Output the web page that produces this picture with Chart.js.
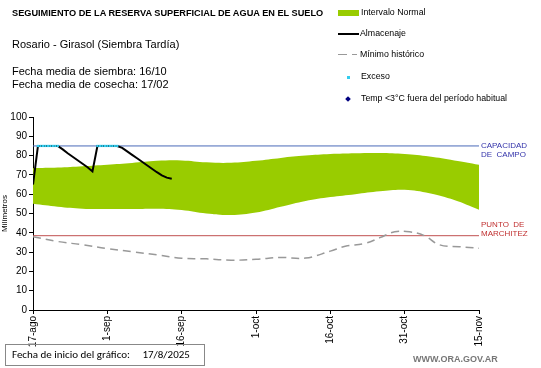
<!DOCTYPE html>
<html>
<head>
<meta charset="utf-8">
<script src="https://cdn.jsdelivr.net/npm/chart.js@4/dist/chart.umd.min.js"></script>
<style>
  body { margin: 0; background: #fff; font-family: 'Liberation Sans', Arial, sans-serif; }
  #wrap { position: relative; width: 541px; height: 368px; overflow: hidden; }
  #chart { position: absolute; left: 0; top: 0; }
  .txt { position: absolute; white-space: nowrap; color: #000; }
  .leg { position: absolute; font-size: 8.8px; white-space: nowrap; color: #000; }
  .box { position: absolute; left: 5px; top: 344px; width: 200px; height: 22px; border: 1px solid #888;
         font-family: 'Carlito', 'Liberation Sans', sans-serif; font-size: 11px; line-height: 20px; padding-left: 6px; box-sizing: border-box; }
</style>
</head>
<body>
<div id="wrap">
  <canvas id="chart" width="541" height="368"></canvas>

  <div class="txt" style="left:12px; top:8px; font-size:9.2px; font-weight:bold;">SEGUIMIENTO DE LA RESERVA SUPERFICIAL DE AGUA EN EL SUELO</div>
  <div class="txt" style="left:12px; top:38px; font-size:11px;">Rosario - Girasol (Siembra Tardía)</div>
  <div class="txt" style="left:12px; top:65px; font-size:11px; line-height:12.5px;">Fecha media de siembra: 16/10<br>Fecha media de cosecha: 17/02</div>

  <!-- legend -->
  <div style="position:absolute; left:338px; top:10px; width:21px; height:6px; background:#99cc00;"></div>
  <div class="leg" style="left:361px; top:7px;">Intervalo Normal</div>
  <div style="position:absolute; left:338px; top:33px; width:21px; height:2px; background:#000;"></div>
  <div class="leg" style="left:360px; top:28px;">Almacenaje</div>
  <div style="position:absolute; left:338px; top:54px; width:9px; height:1px; background:#999;"></div>
  <div style="position:absolute; left:352px; top:54px; width:5px; height:1px; background:#999;"></div>
  <div class="leg" style="left:360px; top:49px;">Mínimo histórico</div>
  <div style="position:absolute; left:347px; top:76px; width:3px; height:3px; background:#33ccee;"></div>
  <div class="leg" style="left:361px; top:71px;">Exceso</div>
  <div style="position:absolute; left:346px; top:97px; width:4px; height:4px; background:#000080; transform:rotate(45deg);"></div>
  <div class="leg" style="left:361px; top:93px;">Temp &lt;3°C fuera del período habitual</div>

  <div class="box">Fecha de inicio del gráfico:&nbsp;&nbsp;&nbsp;&nbsp;&nbsp;17/8/2025</div>
  <div class="txt" style="left:413px; top:354px; font-size:9px; font-weight:bold; color:#777;">WWW.ORA.GOV.AR</div>
</div>

<script>
// x axis: days since 17-ago
const tickLabels = ['17-ago', '1-sep', '16-sep', '1-oct', '16-oct', '31-oct', '15-nov'];

// normal interval band
const bandDays  = [0, 5, 10, 15, 20, 25, 30, 35, 40, 45, 50, 55, 60, 65, 70, 75, 80, 85, 90];
const bandUpper = [73.5, 73.8, 74.5, 75.3, 76.2, 77.3, 77.5, 76.5, 76.3, 77.3, 78.8, 80, 80.8, 81.2, 81.3, 80.8, 79.5, 77.5, 75.3];
const bandLower = [55, 53.5, 52.5, 52.3, 52.3, 52.5, 51.8, 50, 49.2, 50.5, 53.5, 56.5, 58.5, 60, 61.5, 62.3, 60.5, 57, 52];

// minimo historico
const minDays   = [0, 5, 10, 15, 20, 25, 30, 35, 40, 45, 50, 55, 60, 63, 67, 70, 73, 76, 79, 82, 86, 90];
const minValues = [38, 35.5, 33.8, 31.8, 30.2, 28.6, 26.8, 26.5, 25.8, 26.3, 27.2, 26.9, 30.5, 33, 34.5, 37.5, 40.5, 40.5, 38.5, 33.8, 32.8, 32];

// almacenaje (daily)
const storageDays   = [0, 1, 2, 3, 4, 5, 6, 7, 8, 9, 10, 11, 12, 13, 14, 15, 16, 17, 18, 19, 20, 21, 22, 23, 24, 25, 26, 27, 28];
const storageValues = [65, 85, 85, 85, 85, 85, 83.2, 81.2, 79.4, 77.6, 75.8, 74, 71.8, 85, 85, 85, 85, 85, 84, 82.2, 80.4, 78.6, 76.8, 75, 73.2, 71.4, 69.8, 68.6, 68];

// exceso
const excessDays   = [1, 1.5, 2, 2.5, 3, 3.5, 4, 4.5, 5, 13, 13.5, 14, 14.5, 15, 15.5, 16, 16.5, 17];
const excessValues = [85, 85, 85, 85, 85, 85, 85, 85, 85, 85, 85, 85, 85, 85, 85, 85, 85, 85];

const fieldCapacity = 85;
const wiltingPoint = 38.5;

const xy = (xs, ys) => xs.map((x, i) => ({ x: x, y: ys[i] }));

const sideLabels = {
  id: 'sideLabels',
  afterDraw(chart) {
    const { ctx, chartArea, scales } = chart;
    ctx.save();
    ctx.font = "8px 'Liberation Sans', Arial, sans-serif";
    ctx.textBaseline = 'middle';
    const x = chartArea.right + 2;
    let y = scales.y.getPixelForValue(fieldCapacity);
    ctx.fillStyle = '#3333aa';
    ctx.fillText('CAPACIDAD', x, y);
    ctx.fillText('DE  CAMPO', x, y + 9);
    y = scales.y.getPixelForValue(wiltingPoint);
    ctx.fillStyle = '#c03030';
    ctx.fillText('PUNTO  DE', x, y - 11);
    ctx.fillText('MARCHITEZ', x, y - 2);
    ctx.restore();
  }
};

const tickFont = { family: "'Liberation Sans', Arial, sans-serif", size: 10 };
const axisGrid = { display: true, drawOnChartArea: false, drawTicks: true, tickLength: 4, tickColor: '#000', color: '#000' };

new Chart(document.getElementById('chart'), {
  type: 'line',
  data: {
    datasets: [
      {
        label: 'lower', data: xy(bandDays, bandLower), order: 10,
        borderWidth: 0, pointRadius: 0, tension: 0.4, fill: false, borderColor: 'rgba(0,0,0,0)'
      },
      {
        label: 'Intervalo Normal', data: xy(bandDays, bandUpper), order: 9,
        borderWidth: 0, pointRadius: 0, tension: 0.4, fill: '-1',
        backgroundColor: '#99cc00', borderColor: 'rgba(0,0,0,0)'
      },
      {
        label: 'cc', data: [{ x: 0, y: fieldCapacity }, { x: 90, y: fieldCapacity }], order: 5,
        borderColor: '#4a6ab8', borderWidth: 1, pointRadius: 0
      },
      {
        label: 'pm', data: [{ x: 0, y: wiltingPoint }, { x: 90, y: wiltingPoint }], order: 5,
        borderColor: '#c05050', borderWidth: 1, pointRadius: 0
      },
      {
        label: 'Mínimo histórico', data: xy(minDays, minValues), order: 4,
        borderColor: '#999999', borderWidth: 1.5, borderDash: [8, 5], pointRadius: 0, tension: 0.4
      },
      {
        label: 'Almacenaje', data: xy(storageDays, storageValues), order: 2,
        borderColor: '#000', borderWidth: 2, pointRadius: 0, tension: 0
      },
      {
        label: 'Exceso', data: xy(excessDays, excessValues), order: 1,
        showLine: false, pointRadius: 1.6, pointStyle: 'rect',
        pointBackgroundColor: '#33ccee', pointBorderWidth: 0
      }
    ]
  },
  options: {
    responsive: false,
    animation: false,
    layout: { padding: { top: 117, right: 62, left: 0, bottom: 0 } },
    plugins: { legend: { display: false }, tooltip: { enabled: false } },
    scales: {
      x: {
        type: 'linear', min: 0, max: 90,
        afterFit: s => { s.height = 58; },
        grid: axisGrid,
        border: { color: '#000', width: 1 },
        ticks: {
          stepSize: 15, maxRotation: 90, minRotation: 90, color: '#000', padding: 2,
          font: tickFont,
          callback: v => tickLabels[v / 15]
        }
      },
      y: {
        min: 0, max: 100,
        afterFit: s => { s.width = 33; },
        grid: axisGrid,
        border: { color: '#000', width: 1 },
        title: { display: true, text: 'Milímetros', color: '#000', padding: 0,
                 font: { family: "'Liberation Sans', Arial, sans-serif", size: 8 } },
        ticks: { stepSize: 10, color: '#000', padding: 2, font: tickFont }
      }
    }
  },
  plugins: [sideLabels]
});
</script>
</body>
</html>
